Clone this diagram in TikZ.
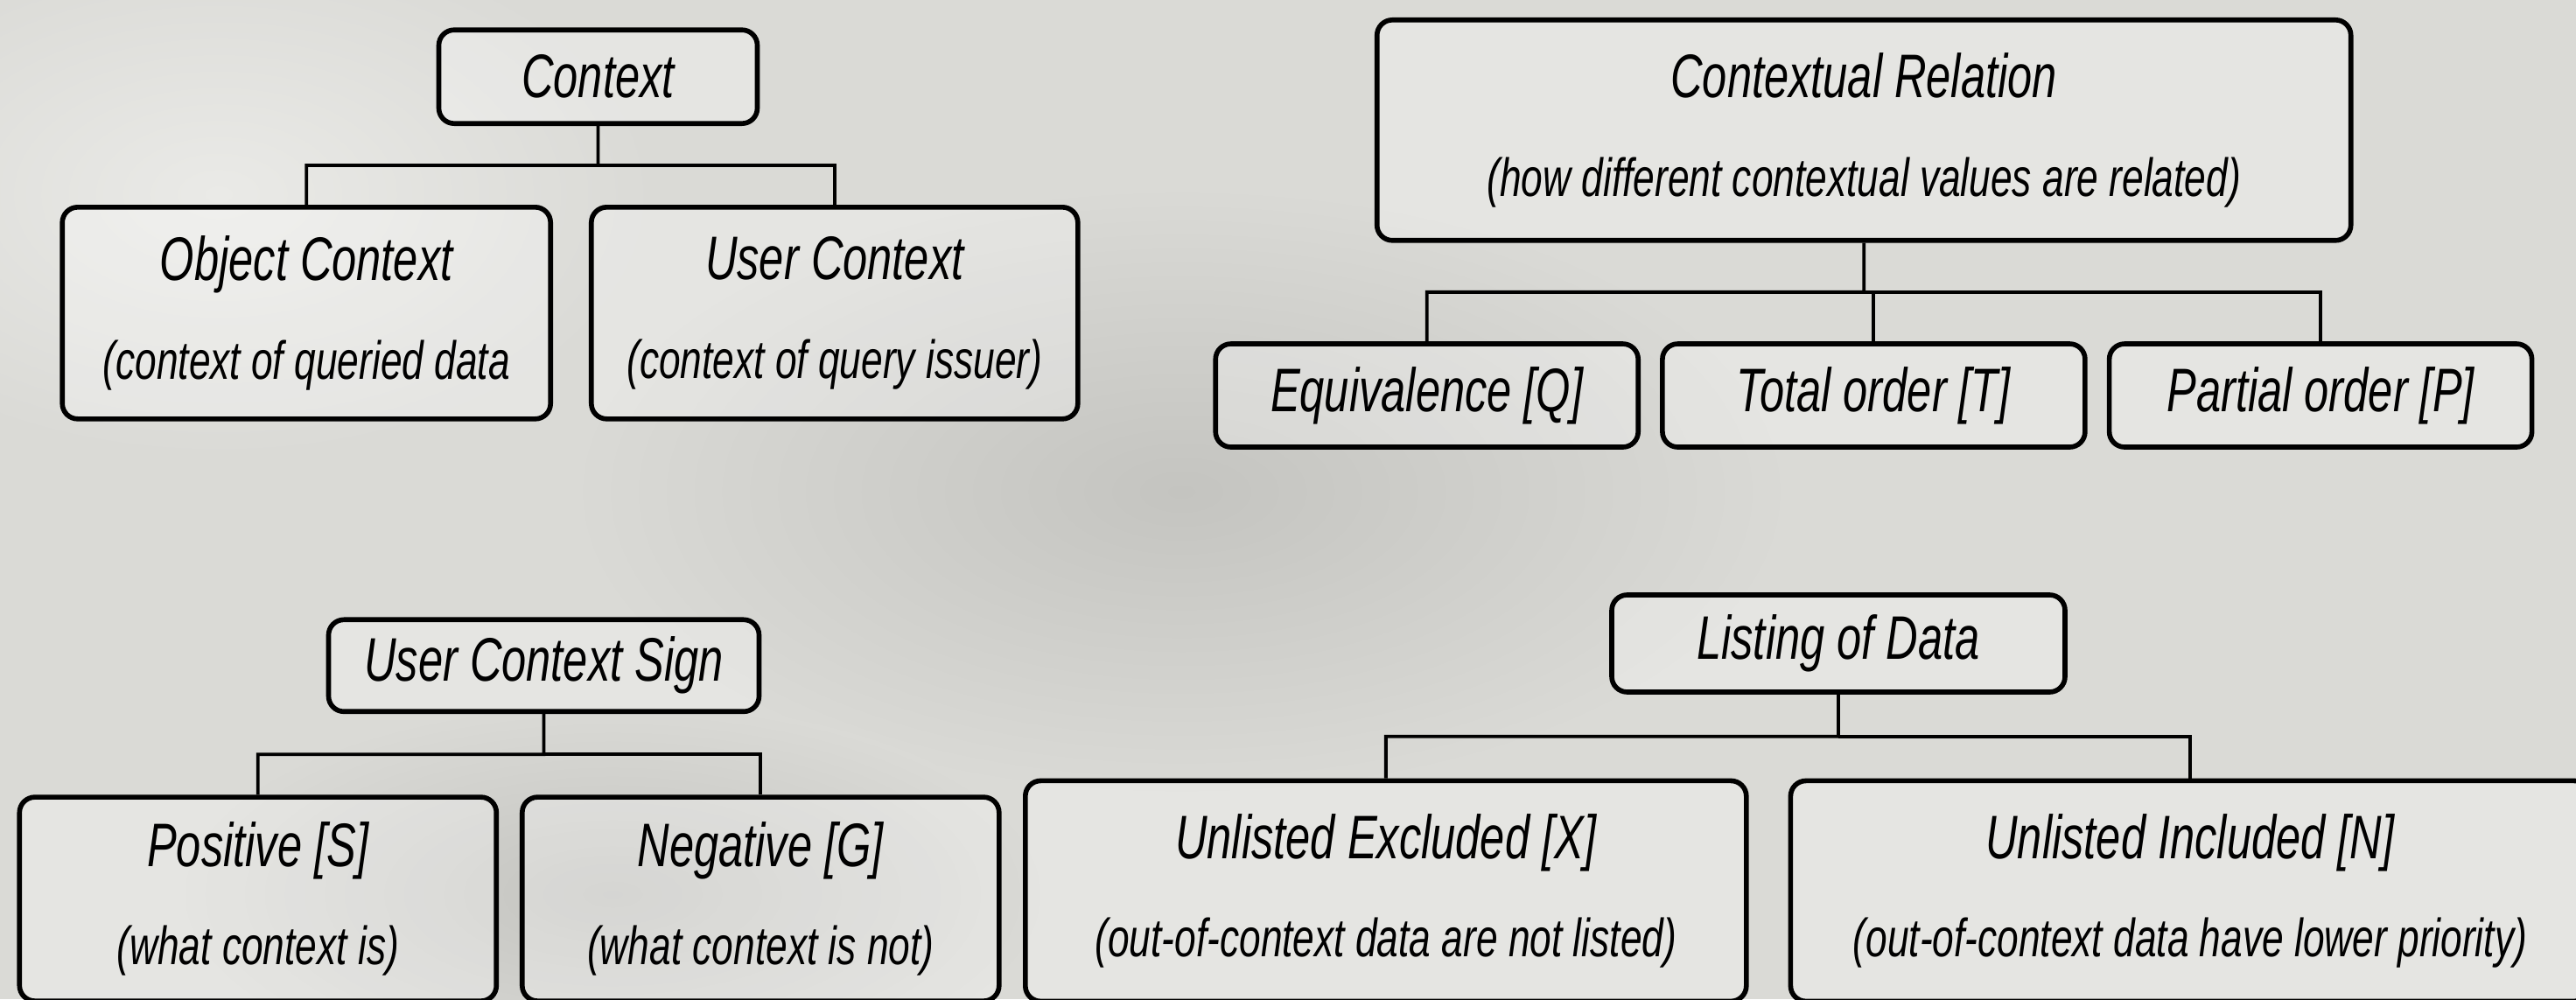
\documentclass[tikz,border=0pt]{standalone}
\usepackage{fontspec}
\usepackage{xcolor}
\usetikzlibrary{positioning, calc}
\newfontfamily\handfont{Liberation Sans}[FakeStretch=0.72]
\definecolor{paper}{RGB}{218,218,214}
\definecolor{paperdark}{RGB}{196,196,192}
\definecolor{paperlight}{RGB}{234,234,231}
\newcommand{\subline}[1]{{\fontsize{17.5}{32}\selectfont #1}}

\begin{document}
\begin{tikzpicture}[
        box/.style={rectangle, draw, line width=1.6pt, rounded corners=5pt, fill=white, fill opacity=0.3, text opacity=1, align=center, inner sep=0pt, font=\handfont\itshape\fontsize{20}{32}\selectfont},
        link/.style={draw, line width=1.1pt}]

    \fill[paper] (0,0) rectangle (29.44,11.42);
    \useasboundingbox (0,0) rectangle (29.44,11.42);
    \shade[inner color=paperdark, outer color=paper] (13.5,5.8) ellipse (7 and 3.5);
    \shade[inner color=paperdark, outer color=paper] (7,1.2) ellipse (5 and 2.2);
    \shade[inner color=paperlight, outer color=paper] (2.5,9.2) ellipse (5 and 3);

    \node (ctx) [box, minimum width=3.64cm, minimum height=1.07cm] at (6.835,10.543) {Context};
    \node (obj) [box, minimum width=5.58cm, minimum height=2.42cm, below=0.90cm of ctx, xshift=-3.333cm] {Object Context\\\subline{(context of queried data}};
    \node (usr) [box, minimum width=5.56cm, minimum height=2.42cm, below=0.90cm of ctx, xshift=2.703cm] {User Context\\\subline{(context of query issuer)}};

    \node (rel) [box, minimum width=11.13cm, minimum height=2.52cm] at (21.302,9.932) {Contextual Relation\\\subline{(how different contextual values are related)}};
    \node (eqv) [box, minimum width=4.83cm, minimum height=1.18cm, below=1.126cm of rel, xshift=-4.995cm] {Equivalence [Q]};
    \node (tot) [box, minimum width=4.83cm, minimum height=1.18cm, below=1.126cm of rel, xshift=0.112cm] {Total order [T]};
    \node (par) [box, minimum width=4.83cm, minimum height=1.18cm, below=1.126cm of rel, xshift=5.219cm] {Partial order [P]};

    \node (sgn) [box, minimum width=4.92cm, minimum height=1.05cm] at (6.215,3.812) {User Context Sign};
    \node (pos) [box, minimum width=5.45cm, minimum height=2.33cm, below=0.922cm of sgn, xshift=-3.267cm] {Positive [S]\\\subline{(what context is)}};
    \node (neg) [box, minimum width=5.45cm, minimum height=2.33cm, below=0.922cm of sgn, xshift=2.478cm] {Negative [G]\\\subline{(what context is not)}};

    \node (lst) [box, minimum width=5.18cm, minimum height=1.11cm] at (21.010,4.065) {Listing of Data};
    \node (exc) [box, minimum width=8.24cm, minimum height=2.52cm, below=0.958cm of lst, xshift=-5.172cm] {Unlisted Excluded [X]\\\subline{(out-of-context data are not listed)}};
    \node (inc) [box, minimum width=9.13cm, minimum height=2.52cm, below=0.958cm of lst, xshift=4.019cm] {Unlisted Included [N]\\\subline{(out-of-context data have lower priority)}};

    \coordinate (ctxbus) at ($(ctx.south)!0.5!(ctx.south |- obj.north)$);
    \coordinate (relbus) at ($(rel.south)!0.5!(rel.south |- eqv.north)$);
    \coordinate (sgnbus) at ($(sgn.south)!0.5!(sgn.south |- pos.north)$);
    \coordinate (lstbus) at ($(lst.south)!0.5!(lst.south |- exc.north)$);

    \draw[link] (ctx.south) -- (ctxbus) -| (obj.north);
    \draw[link] (ctxbus) -| (usr.north);
    \draw[link] (rel.south) -- (relbus) -| (eqv.north);
    \draw[link] (relbus) -| (tot.north);
    \draw[link] (relbus) -| (par.north);
    \draw[link] (sgn.south) -- (sgnbus) -| (pos.north);
    \draw[link] (sgnbus) -| (neg.north);
    \draw[link] (lst.south) -- (lstbus) -| (exc.north);
    \draw[link] (lstbus) -| (inc.north);
\end{tikzpicture}
\end{document}
